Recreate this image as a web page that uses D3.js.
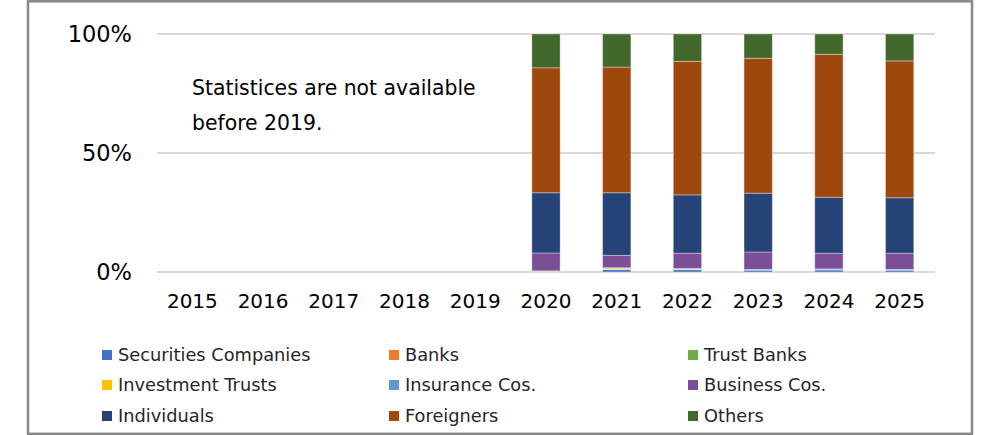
<!DOCTYPE html>
<html lang="en">
<head>
<meta charset="UTF-8">
<title>Shareholding by investor type</title>
<script src="https://cdn.jsdelivr.net/npm/d3@7"></script>
<style>
    body { margin: 0; background: #fff; }
    svg text { font-family: "DejaVu Sans", Verdana, sans-serif; fill: #000; }
    .tick text { font-size: 20px; }
    .legend text { font-size: 17.8px; fill: #262626; }
</style>
</head>
<body>
<svg id="chart" width="982" height="435"></svg>
<script>
    const years = ['2015', '2016', '2017', '2018', '2019', '2020', '2021', '2022', '2023', '2024', '2025'];
    const seriesNames = ['Securities Companies', 'Banks', 'Trust Banks', 'Investment Trusts',
        'Insurance Cos.', 'Business Cos.', 'Individuals', 'Foreigners', 'Others'];
    const colors = ['#4472C4', '#ED7D31', '#70AD47', '#FFC000', '#5B9BD5', '#7A4F98', '#264478', '#9E480E', '#43682B'];

    // shares in %, no data before 2020
    const securities  = [0, 0, 0, 0, 0, 0.0, 1.0, 1.0, 0.8, 0.9, 0.8];
    const banks       = [0, 0, 0, 0, 0, 0.0, 0.1, 0.05, 0.0, 0.0, 0.0];
    const trustBanks  = [0, 0, 0, 0, 0, 0.0, 0.1, 0.05, 0.05, 0.05, 0.05];
    const invTrusts   = [0, 0, 0, 0, 0, 0.3, 0.4, 0.2, 0.05, 0.05, 0.05];
    const insurance   = [0, 0, 0, 0, 0, 0.2, 0.2, 0.2, 0.2, 0.3, 0.2];
    const business    = [0, 0, 0, 0, 0, 7.5, 5.2, 6.4, 7.3, 6.6, 6.8];
    const individuals = [0, 0, 0, 0, 0, 25.3, 26.3, 24.5, 24.7, 23.5, 23.3];
    const foreigners  = [0, 0, 0, 0, 0, 52.5, 52.8, 56.1, 56.7, 60.1, 57.5];
    const others      = [0, 0, 0, 0, 0, 14.2, 13.9, 11.5, 10.2, 8.5, 11.3];

    const yTicks = [0, 50, 100];
    const note = ['Statistices are not available', 'before 2019.'];

    const allSeries = [securities, banks, trustBanks, invTrusts, insurance, business, individuals, foreigners, others];
    const table = years.map((yr, i) => {
        let row = { year: yr };
        seriesNames.forEach((n, k) => { row[n] = allSeries[k][i]; });
        return row;
    });

    const svg = d3.select('#chart');

    // outer frame
    svg.append('rect')
        .attr('x', 28).attr('y', 1.3)
        .attr('width', 944).attr('height', 432.5)
        .attr('fill', 'none')
        .attr('stroke', '#898989')
        .attr('stroke-width', 2.5);

    const plotL = 157, plotR = 935, plotT = 34, plotB = 272;

    let x = d3.scaleBand()
        .domain(years)
        .range([plotL, plotR])
        .paddingInner(0.6)
        .paddingOuter(0.3);

    let y = d3.scaleLinear()
        .domain([0, 100])
        .range([plotB, plotT]);

    // gridlines
    svg.append('g')
        .selectAll('line')
        .data(yTicks)
        .enter().append('line')
        .attr('x1', plotL).attr('x2', plotR)
        .attr('y1', d => y(d)).attr('y2', d => y(d))
        .attr('stroke', '#d9d9d9')
        .attr('stroke-width', 2);

    // y axis labels
    let yAxis = d3.axisLeft(y).tickValues(yTicks).tickFormat(d => d + '%').tickSize(0).tickPadding(25);
    let gy = svg.append('g').attr('transform', 'translate(' + plotL + ',0)').call(yAxis);
    gy.select('.domain').remove();
    gy.selectAll('text').style('font-size', '22.5px');

    // stacked bars
    let stack = d3.stack().keys(seriesNames);
    let layers = stack(table);

    svg.append('g')
        .selectAll('g')
        .data(layers)
        .enter().append('g')
        .attr('fill', (d, i) => colors[i])
        .selectAll('rect')
        .data(d => d.filter(p => p[1] - p[0] > 0))
        .enter().append('rect')
        .attr('x', d => x(d.data.year))
        .attr('width', x.bandwidth())
        .attr('y', d => y(d[1]))
        .attr('height', d => y(d[0]) - y(d[1]))
        .attr('stroke', 'rgba(255,255,255,0.35)')
        .attr('stroke-width', 1);

    // x axis labels
    let xAxis = d3.axisBottom(x).tickSize(0).tickPadding(22);
    let gx = svg.append('g').attr('transform', 'translate(0,' + plotB + ')').call(xAxis);
    gx.select('.domain').remove();

    // note
    svg.append('g')
        .selectAll('text')
        .data(note)
        .enter().append('text')
        .attr('x', 192)
        .attr('y', (d, i) => 95 + i * 35)
        .style('font-size', '20.4px')
        .text(d => d);

    // legend 3 x 3
    const colX = [102, 389, 688];
    const rowY = [355, 385, 416];
    let leg = svg.append('g').attr('class', 'legend')
        .selectAll('g')
        .data(seriesNames)
        .enter().append('g')
        .attr('transform', (d, i) => 'translate(' + colX[i % 3] + ',' + rowY[Math.floor(i / 3)] + ')');

    leg.append('rect')
        .attr('x', 0).attr('y', -5)
        .attr('width', 10).attr('height', 10)
        .attr('fill', (d, i) => colors[i]);

    leg.append('text')
        .attr('x', 16)
        .attr('dy', '.35em')
        .text(d => d);
</script>
</body>
</html>
